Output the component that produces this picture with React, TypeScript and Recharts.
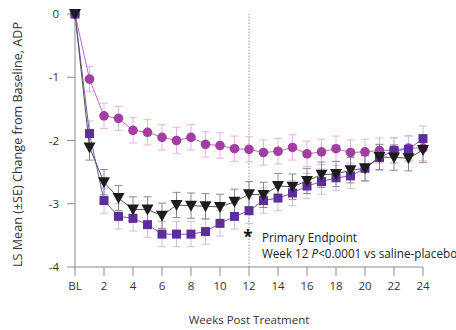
import { LineChart, Line, XAxis, YAxis, ErrorBar, ReferenceLine } from "recharts";

const weeks = [0, 1, 2, 3, 4, 5, 6, 7, 8, 9, 10, 11, 12, 13, 14, 15, 16, 17, 18, 19, 20, 21, 22, 23, 24];

// saline-placebo (circles)
const placebo = [0, -1.03, -1.61, -1.65, -1.84, -1.87, -1.95, -2.0, -1.95, -2.06, -2.08, -2.13, -2.14, -2.19, -2.17, -2.11, -2.21, -2.18, -2.13, -2.19, -2.18, -2.16, -2.15, -2.12, -2.12];
const placeboSE = [0, 0.2, 0.2, 0.19, 0.2, 0.2, 0.2, 0.21, 0.2, 0.2, 0.2, 0.2, 0.2, 0.2, 0.2, 0.2, 0.2, 0.2, 0.2, 0.2, 0.2, 0.2, 0.2, 0.2, 0.2];

// squares
const armSquare = [0, -1.89, -2.95, -3.2, -3.23, -3.33, -3.48, -3.48, -3.48, -3.44, -3.31, -3.2, -3.11, -2.95, -2.91, -2.83, -2.72, -2.65, -2.59, -2.56, -2.44, -2.27, -2.16, -2.14, -1.97];
const armSquareSE = [0, 0.2, 0.2, 0.2, 0.2, 0.2, 0.2, 0.2, 0.2, 0.2, 0.2, 0.2, 0.2, 0.2, 0.2, 0.2, 0.2, 0.2, 0.2, 0.2, 0.2, 0.2, 0.2, 0.2, 0.2];

// triangles
const armTriangle = [0, -2.11, -2.66, -2.91, -3.09, -3.09, -3.19, -3.02, -3.03, -3.04, -3.05, -2.97, -2.85, -2.86, -2.72, -2.73, -2.64, -2.54, -2.53, -2.47, -2.44, -2.26, -2.27, -2.28, -2.15];
const armTriangleSE = [0, 0.2, 0.2, 0.2, 0.2, 0.2, 0.2, 0.2, 0.2, 0.2, 0.2, 0.2, 0.2, 0.2, 0.2, 0.2, 0.2, 0.2, 0.2, 0.2, 0.2, 0.2, 0.2, 0.2, 0.2];

const xTicks = [0, 2, 4, 6, 8, 10, 12, 14, 16, 18, 20, 22, 24];
const yTicks = [0, -1, -2, -3, -4];

const data = weeks.map((w, i) => ({
  week: w,
  placebo: placebo[i],
  placeboSE: placeboSE[i],
  sq: armSquare[i],
  sqSE: armSquareSE[i],
  tri: armTriangle[i],
  triSE: armTriangleSE[i],
}));

const FONT = "'Open Sans', sans-serif";
const C_PLACEBO = "#a03ea2";
const C_SQUARE = "#5e2d9c";
const C_TRI = "#1c1c1c";

const CircleDot = (p: any) => {
  if (p.cx == null || p.cy == null) return <g key={p.key} />;
  return <circle key={p.key} cx={p.cx} cy={p.cy} r={4.8} fill={C_PLACEBO} />;
};

const SquareDot = (p: any) => {
  if (p.cx == null || p.cy == null) return <g key={p.key} />;
  return <rect key={p.key} x={p.cx - 4.5} y={p.cy - 4.5} width={9} height={9} fill={C_SQUARE} />;
};

const TriDot = (p: any) => {
  if (p.cx == null || p.cy == null) return <g key={p.key} />;
  const { cx, cy } = p;
  return (
    <path
      key={p.key}
      d={`M${cx - 6},${cy - 5} L${cx + 6},${cy - 5} L${cx},${cy + 6} Z`}
      fill={C_TRI}
    />
  );
};

const EndpointLabel = (props: any) => {
  const vb = props.viewBox || {};
  const x = vb.x ?? 0;
  return (
    <g fontFamily={FONT}>
      <text x={x - 1} y={243} textAnchor="middle" fontSize={17} fontWeight="bold" fill="#111">
        *
      </text>
      <text x={x + 13} y={242} fontSize={11.7} fill="#222">
        Primary Endpoint
      </text>
      <text x={x + 13} y={258} fontSize={11.7} fill="#222">
        Week 12 <tspan fontStyle="italic">P</tspan>&lt;0.0001 vs saline-placebo
      </text>
    </g>
  );
};

export default function App() {
  return (
    <div style={{ position: "absolute", left: 0, top: 0, width: 456, height: 330, background: "#fff" }}>
      <LineChart width={456} height={330} data={data} margin={{ top: 14, right: 33, left: 15, bottom: 33 }}>
        <XAxis
          dataKey="week"
          type="number"
          domain={[0, 24]}
          ticks={xTicks}
          tickFormatter={(v: number) => (v === 0 ? "BL" : String(v))}
          height={30}
          tickSize={9}
          tickMargin={6}
          stroke="#8c8c8c"
          tick={{ fill: "#333", fontSize: 11.5, fontFamily: FONT }}
          label={{ value: "Weeks Post Treatment", position: "center", dy: 38, fill: "#333", fontSize: 11.5, fontFamily: FONT }}
        />
        <YAxis
          type="number"
          domain={[-4, 0]}
          ticks={yTicks}
          width={60}
          tickSize={8}
          tickMargin={8}
          stroke="#8c8c8c"
          tick={{ fill: "#333", fontSize: 11.5, fontFamily: FONT }}
          label={{ value: "LS Mean (±SE) Change from Baseline, ADP", angle: -90, position: "center", dx: -27, dy: 4, fill: "#333", fontSize: 12.6, fontFamily: FONT }}
        />
        <ReferenceLine x={12} stroke="#9a9a9a" strokeDasharray="1.5 1.5" label={<EndpointLabel />} />
        <Line
          dataKey="placebo"
          stroke="#c06cc0"
          strokeWidth={1}
          dot={CircleDot}
          activeDot={false}
          isAnimationActive={false}
        >
          <ErrorBar dataKey="placeboSE" width={4} stroke="#e6b2e6" strokeWidth={1} direction="y" isAnimationActive={false} />
        </Line>
        <Line
          dataKey="sq"
          stroke="#7d56b6"
          strokeWidth={1}
          dot={SquareDot}
          activeDot={false}
          isAnimationActive={false}
        >
          <ErrorBar dataKey="sqSE" width={4} stroke="#cbbfe2" strokeWidth={1} direction="y" isAnimationActive={false} />
        </Line>
        <Line
          dataKey="tri"
          stroke="#555"
          strokeWidth={1}
          dot={TriDot}
          activeDot={false}
          isAnimationActive={false}
        >
          <ErrorBar dataKey="triSE" width={4} stroke="#8a8a8a" strokeWidth={1} direction="y" isAnimationActive={false} />
        </Line>
      </LineChart>
    </div>
  );
}
